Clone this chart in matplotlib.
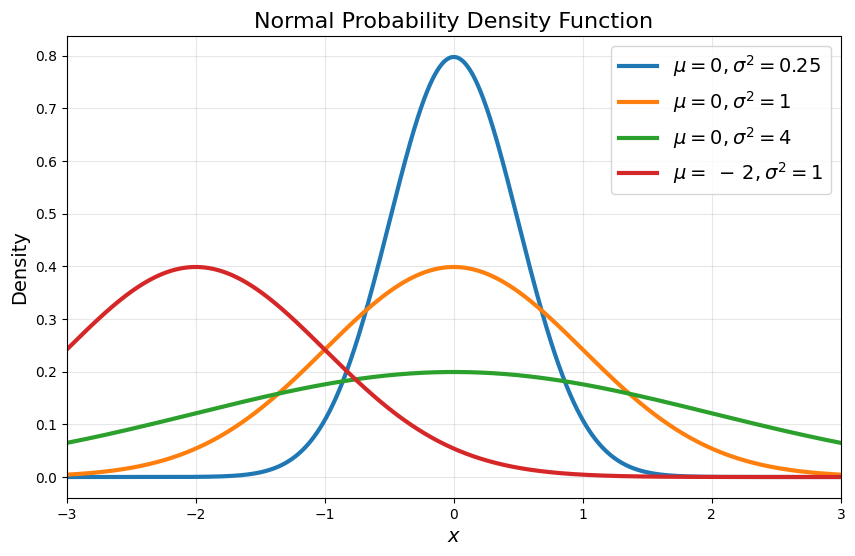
import numpy as np
import matplotlib
matplotlib.use("Agg")
import matplotlib.pyplot as plt

# Parameters
mus = [0, 0, 0, -2]
sigma2s = [0.25, 1, 4, 1]
labels = [r"$\mu=0, \sigma^2=0.25$", r"$\mu=0, \sigma^2=1$",
          r"$\mu=0, \sigma^2=4$", r"$\mu=\;-\,2, \sigma^2=1$"]
colors = ["#1f77b4", "#ff7f0e", "#2ca02c", "#d62728"]

x = np.linspace(-3, 3, 1000)

fig = plt.figure(figsize=(8.55, 5.56), dpi=100)
ax = fig.add_axes([0.0780, 0.1043, 0.9055, 0.8310])
for mu, s2, lab, c in zip(mus, sigma2s, labels, colors):
    y = np.exp(-(x - mu) ** 2 / (2 * s2)) / np.sqrt(2 * np.pi * s2)
    ax.plot(x, y, color=c, lw=3, label=lab)

ax.set_xlim(-3, 3)
ax.set_title("Normal Probability Density Function", fontsize=16)
ax.set_xlabel(r"$x$", fontsize=14)
ax.set_ylabel("Density", fontsize=14)
ax.grid(True, alpha=0.3)
ax.legend(fontsize=14, loc="upper right")
fig.savefig("out.png", dpi=100)
